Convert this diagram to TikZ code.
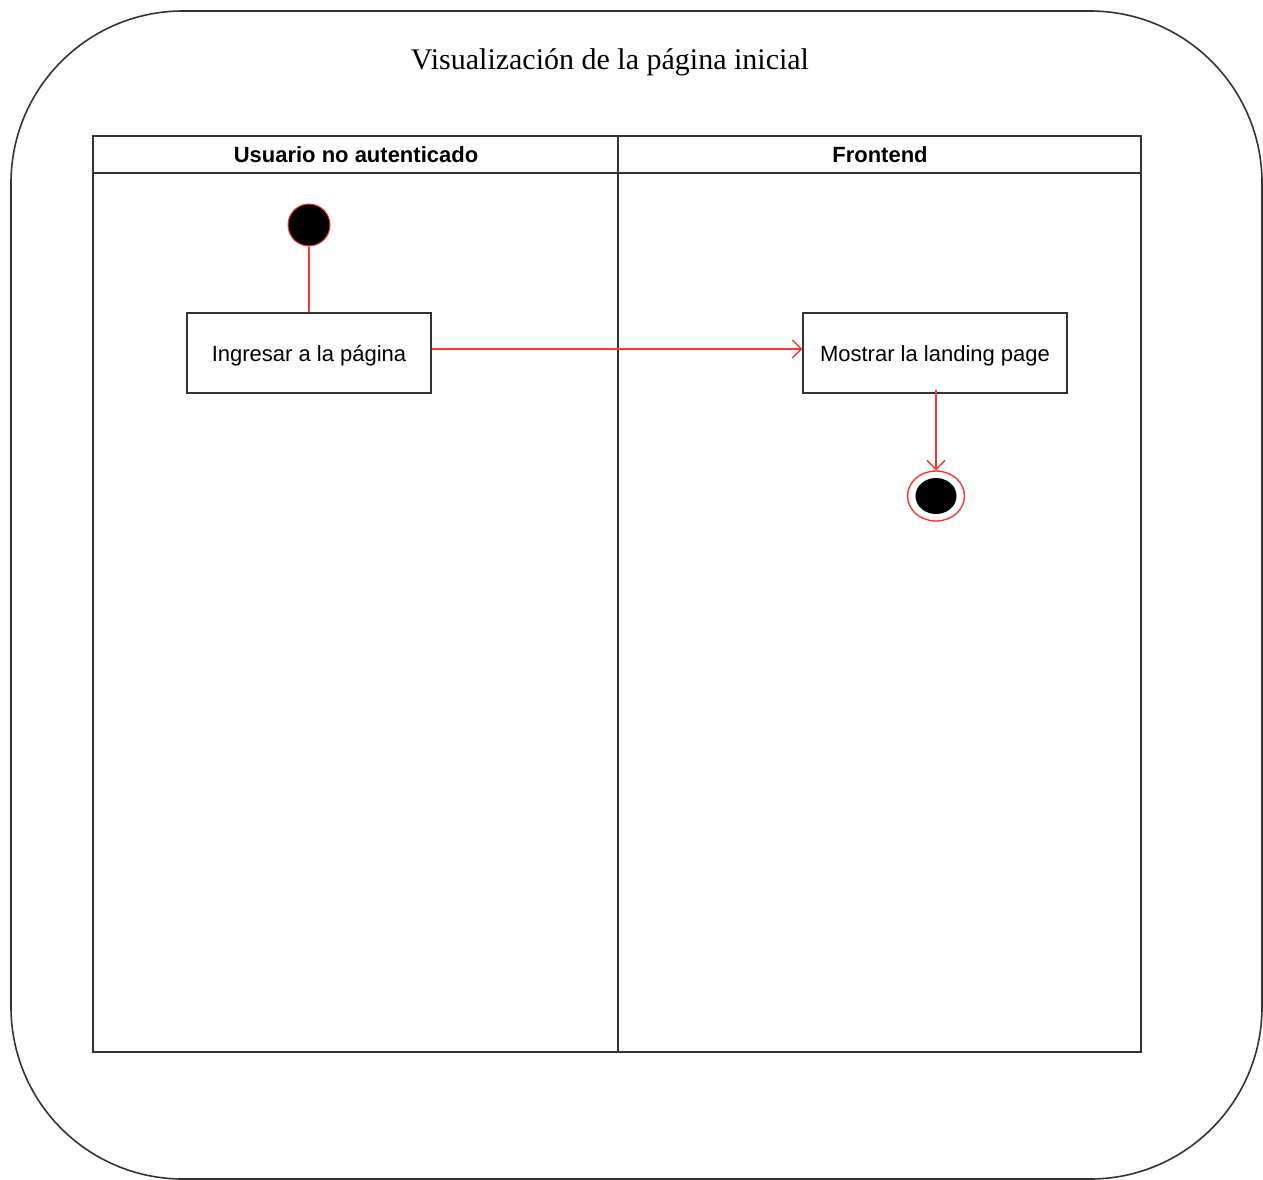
\documentclass[tikz,border=0pt]{standalone}
\usepackage{fontspec}
\setmainfont{Liberation Serif}
\newfontfamily\lanefont{Liberation Sans}
\usetikzlibrary{arrows.meta,shapes.geometric}
\definecolor{flowred}{HTML}{FF3333}
\definecolor{edgegray}{HTML}{333333}
\tikzset{
  frame/.style={draw=edgegray, line width=1.6pt},
  lane/.style={draw=edgegray, line width=1.6pt},
  actbox/.style={draw=edgegray, line width=1.4pt, rectangle, minimum width=244pt, minimum height=80pt, font=\lanefont\fontsize{22}{24}\selectfont, inner sep=0pt, text height=16pt, text depth=0pt},
  flow/.style={draw=flowred, line width=1.4pt},
  flowarrow/.style={flow, -{Straight Barb[length=9pt,width=18pt,line width=1.4pt]}},
  lanetitle/.style={font=\lanefont\bfseries\fontsize{22}{24}\selectfont, inner sep=0pt},
}
\begin{document}
\begin{tikzpicture}[x=1pt,y=-1pt]
\useasboundingbox (0,0) rectangle (1263,1180);
\fill[white] (0,0) rectangle (1263,1180);
% outer rounded frame
\draw[frame, rounded corners=172pt] (11,11) rectangle (1262,1179);
\node[font=\fontsize{30}{32}\selectfont, inner sep=0pt] (title) at (610,62) {Visualización de la página inicial};
% swimlane pool
\draw[lane] (93,136) rectangle (1141,1052);
\draw[lane] (93,173) -- (1141,173);
\draw[lane] (618,136) -- (618,1052);
\node[lanetitle] (laneA) at (356,155) {Usuario no autenticado};
\node[lanetitle] (laneB) at (880,155) {Frontend};
% activity nodes
\node[ellipse, fill=black, draw=flowred, line width=1pt, minimum width=42pt, minimum height=42pt, inner sep=0pt] (start) at (309,225) {};
\node[actbox] (ingresar) at (309,353) {Ingresar a la página};
\node[actbox, minimum width=264pt] (mostrar) at (935,353) {Mostrar la landing page};
\node[ellipse, draw=flowred, line width=1.4pt, fill=white, minimum width=57pt, minimum height=50pt, inner sep=0pt] (end) at (936,496) {};
\node[ellipse, fill=black, minimum width=41pt, minimum height=36pt, inner sep=0pt] (endcore) at (end.center) {};
% transitions
\draw[flow] (start.south) -- (ingresar.north);
\draw[flowarrow] (ingresar.east |- 0,349) -- (mostrar.west |- 0,349);
\draw[flowarrow] ([yshift=4pt]mostrar.south -| end.center) -- (end.north);
\end{tikzpicture}
\end{document}
